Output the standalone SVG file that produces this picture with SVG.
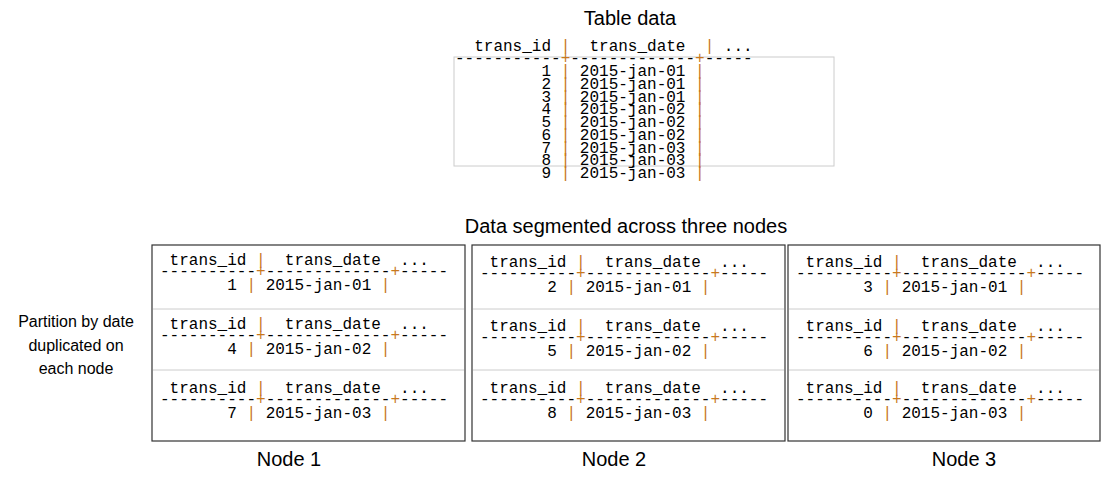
<svg xmlns="http://www.w3.org/2000/svg" width="1103" height="483" viewBox="0 0 1103 483">
<style>
.t{font-family:"Liberation Sans",Arial,sans-serif;font-size:20px;fill:#000;text-anchor:middle}
.s{font-family:"Liberation Sans",Arial,sans-serif;font-size:16px;fill:#000;text-anchor:middle}
.m{font-family:"Liberation Mono","Courier New",monospace;font-size:16px;fill:#000;white-space:pre}
.o{fill:#c8781e}
.box{fill:#fff;stroke:#333;stroke-width:1.2}
.sep{stroke:#ccc;stroke-width:1}
</style>
<rect width="1103" height="483" fill="#fff"/>
<g id="title"><text class="t" x="630" y="25">Table data</text></g>
<g id="table">
<rect x="454" y="57" width="380" height="109" fill="none" stroke="#ccc" stroke-width="1"/>
<text class="m" x="455" y="51" xml:space="preserve">  trans_id <tspan class="o">|</tspan>  trans_date  <tspan class="o">|</tspan> ...</text>
<text class="m" x="455" y="63" xml:space="preserve">-----------<tspan class="o">+</tspan>-------------<tspan class="o">+</tspan>-----</text>
<text class="m" x="455" y="76" xml:space="preserve">         1 <tspan class="o">|</tspan> 2015-jan-01 <tspan class="o">|</tspan></text>
<text class="m" x="455" y="89" xml:space="preserve">         2 <tspan class="o">|</tspan> 2015-jan-01 <tspan class="o">|</tspan></text>
<text class="m" x="455" y="101.5" xml:space="preserve">         3 <tspan class="o">|</tspan> 2015-jan-01 <tspan class="o">|</tspan></text>
<text class="m" x="455" y="114" xml:space="preserve">         4 <tspan class="o">|</tspan> 2015-jan-02 <tspan class="o">|</tspan></text>
<text class="m" x="455" y="127" xml:space="preserve">         5 <tspan class="o">|</tspan> 2015-jan-02 <tspan class="o">|</tspan></text>
<text class="m" x="455" y="140" xml:space="preserve">         6 <tspan class="o">|</tspan> 2015-jan-02 <tspan class="o">|</tspan></text>
<text class="m" x="455" y="152.5" xml:space="preserve">         7 <tspan class="o">|</tspan> 2015-jan-03 <tspan class="o">|</tspan></text>
<text class="m" x="455" y="165" xml:space="preserve">         8 <tspan class="o">|</tspan> 2015-jan-03 <tspan class="o">|</tspan></text>
<text class="m" x="455" y="178" xml:space="preserve">         9 <tspan class="o">|</tspan> 2015-jan-03 <tspan class="o">|</tspan></text>
</g>
<g id="subtitle"><text class="t" x="626" y="233">Data segmented across three nodes</text></g>
<g id="side"><text class="s" x="76" y="327">Partition by date</text><text class="s" x="76" y="351">duplicated on</text><text class="s" x="76" y="374">each node</text></g>
<defs>
<g id="hdr"><text class="m" x="0" y="0" xml:space="preserve"> trans_id <tspan class="o">|</tspan>  trans_date  ...</text>
<text class="m" x="0" y="11" xml:space="preserve">----------<tspan class="o">+</tspan>-------------<tspan class="o">+</tspan>-----</text></g>
</defs>
<g id="node1">
<rect class="box" x="152" y="245" width="313" height="196"/>
<line class="sep" x1="153" y1="309" x2="464" y2="309"/><line class="sep" x1="153" y1="370" x2="464" y2="370"/>
<use href="#hdr" x="160" y="265"/><text class="m" x="160" y="290" xml:space="preserve">       1 <tspan class="o">|</tspan> 2015-jan-01 <tspan class="o">|</tspan></text>
<use href="#hdr" x="160" y="329"/><text class="m" x="160" y="354" xml:space="preserve">       4 <tspan class="o">|</tspan> 2015-jan-02 <tspan class="o">|</tspan></text>
<use href="#hdr" x="160" y="393"/><text class="m" x="160" y="418" xml:space="preserve">       7 <tspan class="o">|</tspan> 2015-jan-03 <tspan class="o">|</tspan></text>
<text class="t" x="289" y="466">Node 1</text>
</g>
<g id="node2">
<rect class="box" x="472" y="245" width="313" height="196"/>
<line class="sep" x1="473" y1="309" x2="784" y2="309"/><line class="sep" x1="473" y1="370" x2="784" y2="370"/>
<use href="#hdr" x="480" y="267"/><text class="m" x="480" y="292" xml:space="preserve">       2 <tspan class="o">|</tspan> 2015-jan-01 <tspan class="o">|</tspan></text>
<use href="#hdr" x="480" y="331"/><text class="m" x="480" y="356" xml:space="preserve">       5 <tspan class="o">|</tspan> 2015-jan-02 <tspan class="o">|</tspan></text>
<use href="#hdr" x="480" y="393"/><text class="m" x="480" y="418" xml:space="preserve">       8 <tspan class="o">|</tspan> 2015-jan-03 <tspan class="o">|</tspan></text>
<text class="t" x="614" y="466">Node 2</text>
</g>
<g id="node3">
<rect class="box" x="788" y="245" width="312" height="196"/>
<line class="sep" x1="789" y1="309" x2="1099" y2="309"/><line class="sep" x1="789" y1="370" x2="1099" y2="370"/>
<use href="#hdr" x="796" y="267"/><text class="m" x="796" y="292" xml:space="preserve">       3 <tspan class="o">|</tspan> 2015-jan-01 <tspan class="o">|</tspan></text>
<use href="#hdr" x="796" y="331"/><text class="m" x="796" y="356" xml:space="preserve">       6 <tspan class="o">|</tspan> 2015-jan-02 <tspan class="o">|</tspan></text>
<use href="#hdr" x="796" y="393"/><text class="m" x="796" y="418" xml:space="preserve">       0 <tspan class="o">|</tspan> 2015-jan-03 <tspan class="o">|</tspan></text>
<text class="t" x="964" y="466">Node 3</text>
</g>
<g id="connectors"/>
</svg>
